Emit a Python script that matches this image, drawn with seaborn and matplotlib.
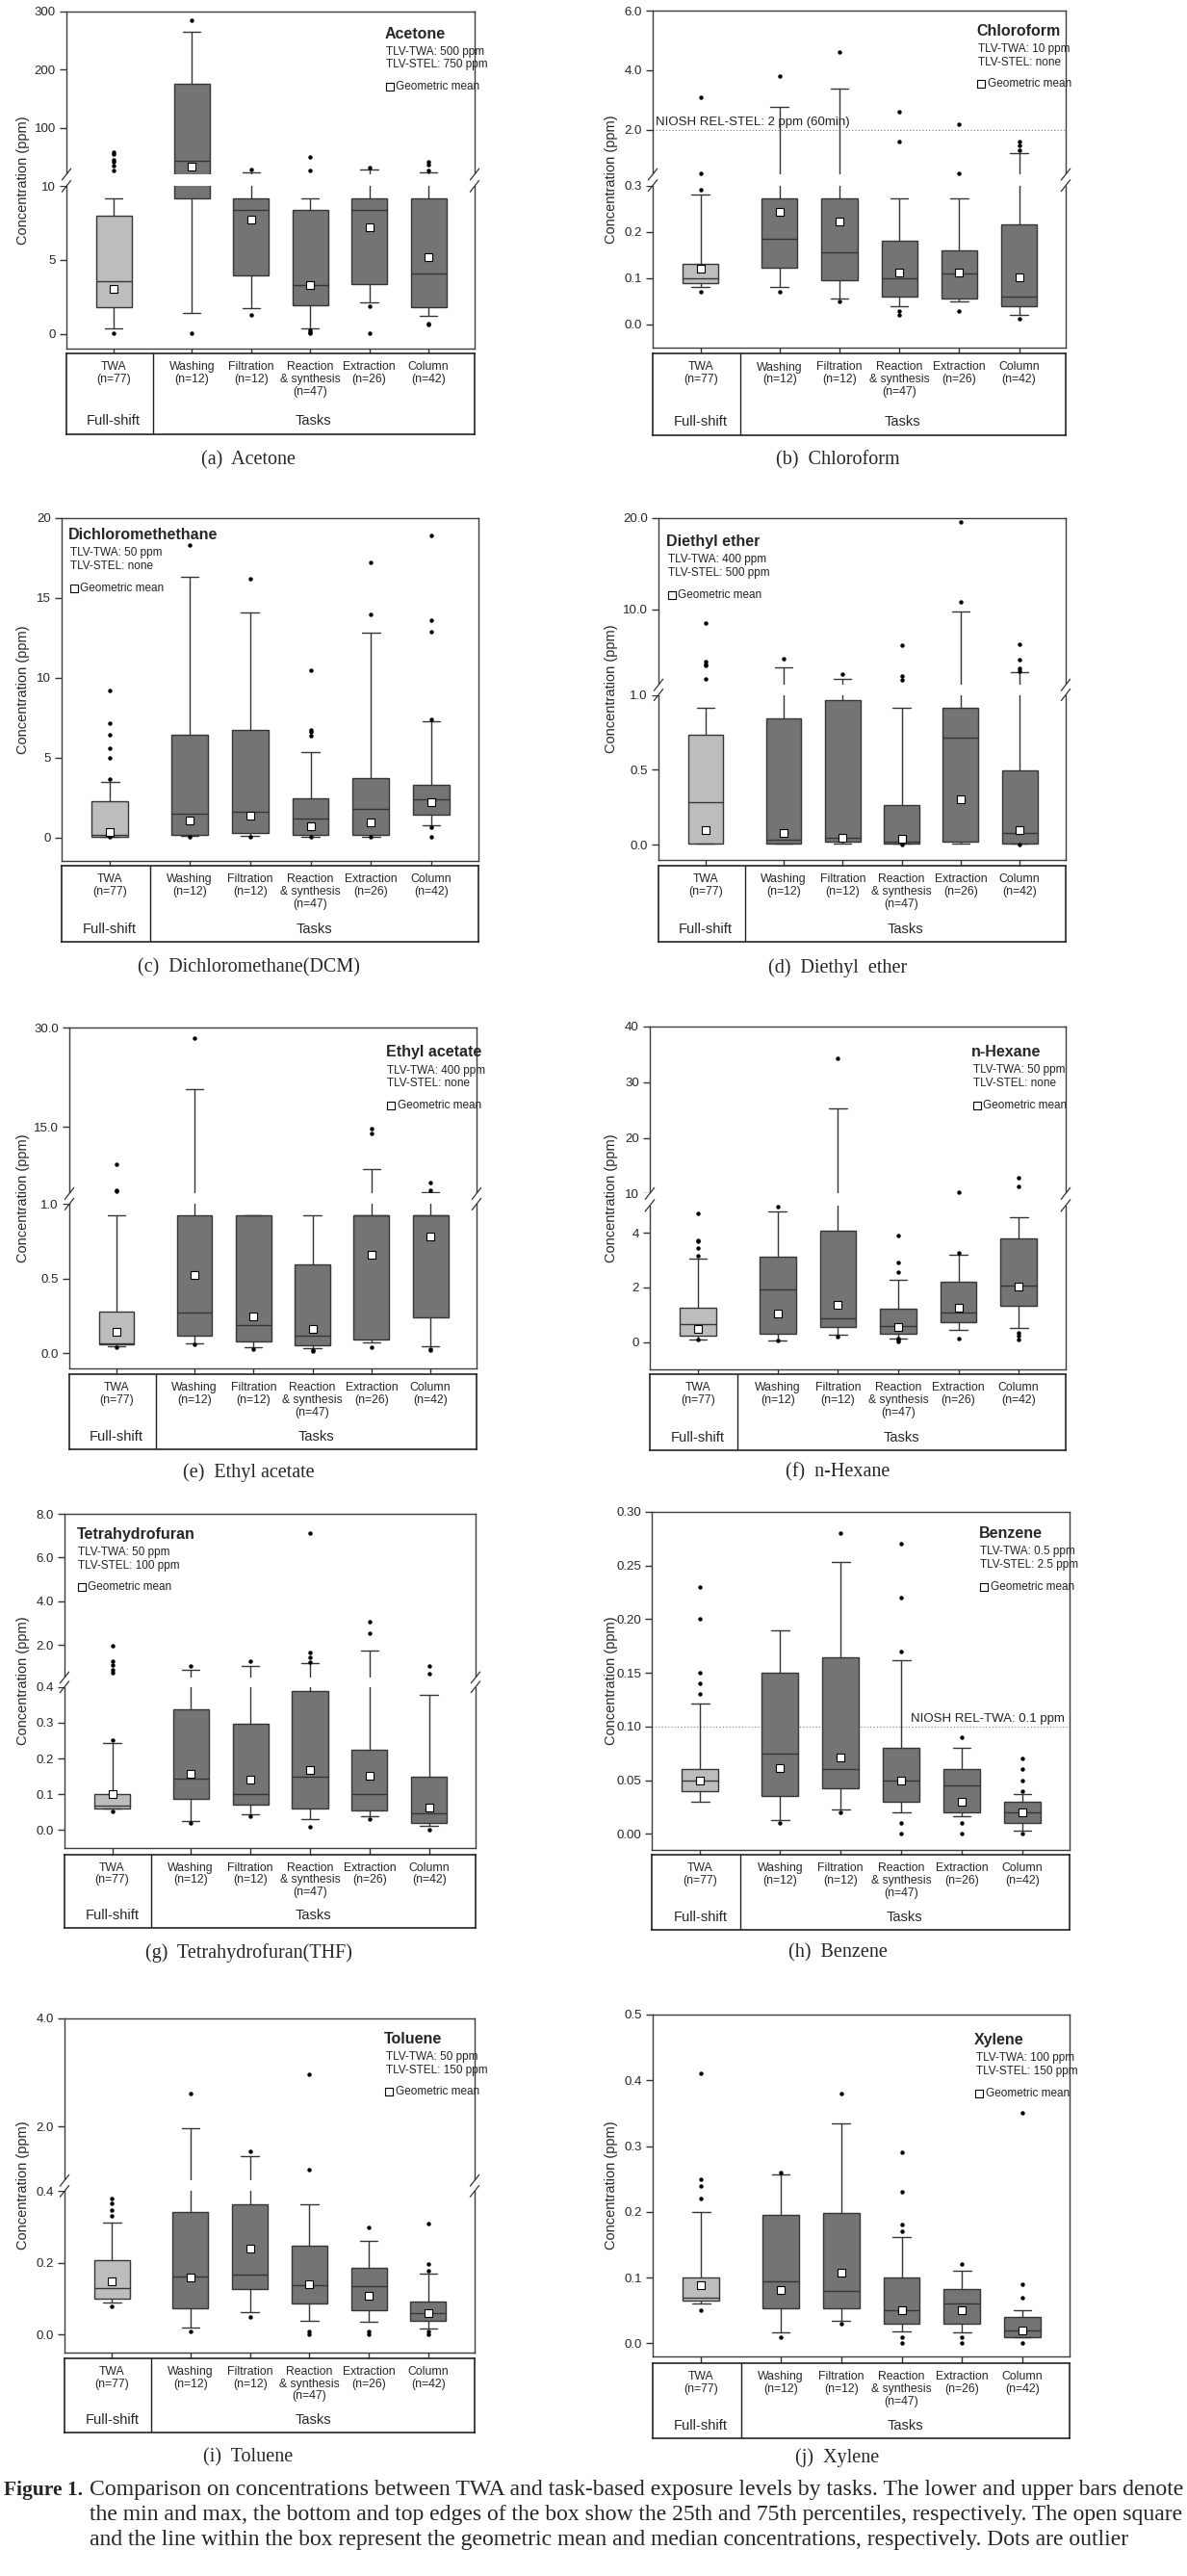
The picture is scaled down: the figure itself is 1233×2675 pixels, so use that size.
"""
Figure 1 - TWA vs task-based exposure levels, box plots for 10 solvents
"""

import numpy as np
import pandas as pd
import matplotlib
matplotlib.use("Agg")
import matplotlib.pyplot as plt
import matplotlib.transforms as mtransforms
from matplotlib.patches import Rectangle
from matplotlib.ticker import NullLocator
import seaborn as sns

sns.set_style("ticks")
plt.rcParams['font.family'] = ['Liberation Sans', 'DejaVu Sans']
SERIF = ['Liberation Serif', 'DejaVu Serif']

W, H = 1233, 2675

# ---------------- data ----------------
categories = ["TWA\n(n=77)", "Washing\n(n=12)", "Filtration\n(n=12)",
              "Reaction\n& synthesis\n(n=47)", "Extraction\n(n=26)", "Column\n(n=42)"]
groups = ["Full-shift", "Tasks", "Tasks", "Tasks", "Tasks", "Tasks"]
x_pos = [-0.32, 1, 2, 3, 4, 5]

# one row per category: min, 25th, median, 75th, max
acetone_box = [[0.4, 1.8, 3.55, 8.0, 9.2], [1.4, 9.2, 44, 175, 265], [1.75, 3.95, 8.4, 9.2, 24],
               [0.4, 1.95, 3.3, 8.4, 9.2], [2.1, 3.4, 8.4, 9.2, 28], [1.2, 1.8, 4.1, 9.2, 24]]
acetone_gm = [3.05, 34, 7.75, 3.3, 7.2, 5.2]
acetone_out = [[0.05, 27, 35, 41, 45, 55, 59], [0.05, 285], [1.3, 29],
               [0.05, 0.12, 0.25, 26, 50], [0.05, 1.85, 32], [0.6, 0.72, 27, 37, 41]]

chloro_box = [[0.08, 0.09, 0.10, 0.13, 0.28], [0.08, 0.123, 0.185, 0.273, 2.78], [0.056, 0.096, 0.155, 0.273, 3.38],
              [0.04, 0.06, 0.10, 0.18, 0.273], [0.05, 0.057, 0.11, 0.161, 0.273], [0.021, 0.04, 0.06, 0.217, 1.23]]
chloro_gm = [0.12, 0.243, 0.222, 0.112, 0.112, 0.101]
chloro_out = [[0.07, 0.29, 0.54, 3.1], [0.07, 3.8], [0.05, 4.6],
              [0.02, 0.03, 1.6, 2.62], [0.03, 0.53, 2.18], [0.012, 1.3, 1.46, 1.6]]

dcm_box = [[0.05, 0.06, 0.2, 2.27, 3.52], [0.1, 0.16, 1.5, 6.47, 16.3], [0.1, 0.32, 1.6, 6.75, 14.1],
           [0.05, 0.15, 1.19, 2.45, 5.33], [0.08, 0.15, 1.79, 3.76, 12.8], [0.76, 1.47, 2.43, 3.3, 7.3]]
dcm_gm = [0.34, 1.06, 1.4, 0.72, 0.94, 2.2]
dcm_out = [[0.03, 3.7, 5.0, 5.6, 6.43, 7.14, 9.2], [0.05, 18.3], [0.08, 16.2],
           [0.03, 6.41, 6.6, 6.75, 10.5], [0.04, 14.0, 17.2], [0.08, 0.64, 7.4, 12.9, 13.6, 18.9]]

ether_box = [[0.01, 0.012, 0.287, 0.734, 0.913], [0.01, 0.012, 0.032, 0.845, 3.68], [0.01, 0.02, 0.047, 0.968, 2.39],
             [0.01, 0.012, 0.02, 0.266, 0.913], [0.01, 0.02, 0.713, 0.913, 9.75], [0.01, 0.012, 0.081, 0.494, 3.16]]
ether_gm = [0.10, 0.079, 0.05, 0.04, 0.304, 0.096]
ether_out = [[2.39, 3.86, 4.04, 4.28, 8.5], [4.6], [2.95],
             [0.0, 2.28, 2.74, 6.1], [10.8, 19.6], [0.0, 3.3, 3.6, 4.5, 6.25]]

ethyl_box = [[0.047, 0.058, 0.069, 0.282, 0.923], [0.067, 0.118, 0.277, 0.923, 20.66], [0.041, 0.08, 0.19, 0.923, 0.923],
             [0.037, 0.052, 0.12, 0.596, 0.923], [0.073, 0.092, 0.923, 0.923, 8.7], [0.05, 0.239, 0.923, 0.923, 5.23]]
ethyl_gm = [0.142, 0.527, 0.248, 0.163, 0.66, 0.785]
ethyl_out = [[0.04, 5.32, 5.5, 9.44], [0.06, 28.4], [0.03],
             [0.015, 0.02], [0.04, 14.1, 14.8], [0.02, 0.03, 5.5, 6.6]]

hexane_box = [[0.08, 0.23, 0.655, 1.25, 3.06], [0.06, 0.316, 1.92, 3.13, 4.8], [0.257, 0.55, 0.854, 4.08, 25.3],
              [0.14, 0.316, 0.57, 1.22, 2.29], [0.456, 0.725, 1.09, 2.2, 3.2], [0.53, 1.31, 2.05, 3.8, 4.56]]
hexane_gm = [0.49, 1.06, 1.37, 0.56, 1.24, 2.04]
hexane_out = [[0.08, 3.16, 3.43, 3.68, 3.72, 4.7], [0.06, 4.97], [0.19, 34.3],
              [0.03, 0.08, 0.12, 2.57, 2.91, 3.9], [0.14, 3.26, 10.17], [0.1, 0.25, 0.35, 11.3, 12.8]]

thf_box = [[0.06, 0.06, 0.069, 0.10, 0.243], [0.024, 0.087, 0.145, 0.338, 0.84], [0.045, 0.072, 0.10, 0.296, 1.01],
           [0.03, 0.06, 0.15, 0.388, 1.15], [0.04, 0.056, 0.10, 0.225, 1.74], [0.011, 0.02, 0.046, 0.15, 0.379]]
thf_gm = [0.10, 0.158, 0.142, 0.169, 0.151, 0.062]
thf_out = [[0.051, 0.252, 0.72, 0.87, 1.09, 1.26, 1.94], [0.02, 1.03], [0.04, 1.26],
           [0.01, 1.19, 1.41, 1.63, 7.12], [0.03, 2.53, 3.06], [0.0, 0.68, 1.04]]

benzene_box = [[0.03, 0.04, 0.05, 0.06, 0.1216], [0.0128, 0.0353, 0.0747, 0.15, 0.19], [0.0227, 0.0424, 0.06, 0.1646, 0.253],
               [0.02, 0.03, 0.05, 0.08, 0.162], [0.0167, 0.02, 0.045, 0.06, 0.08], [0.0033, 0.01, 0.02, 0.03, 0.037]]
benzene_gm = [0.05, 0.0615, 0.0708, 0.05, 0.03, 0.02]
benzene_out = [[0.13, 0.14, 0.15, 0.20, 0.23], [0.01], [0.02, 0.28],
               [0.0, 0.01, 0.17, 0.22, 0.27], [0.0, 0.01, 0.09], [0.0, 0.04, 0.05, 0.06, 0.07]]

toluene_box = [[0.0884, 0.10, 0.129, 0.208, 0.3125], [0.0205, 0.073, 0.163, 0.341, 1.96], [0.064, 0.1277, 0.168, 0.364, 1.45],
               [0.038, 0.0875, 0.139, 0.248, 0.364], [0.0366, 0.068, 0.134, 0.1875, 0.262], [0.018, 0.0375, 0.059, 0.0929, 0.171]]
toluene_gm = [0.148, 0.16, 0.241, 0.14, 0.109, 0.06]
toluene_out = [[0.08, 0.331, 0.348, 0.366, 0.38], [0.01, 2.61], [0.05, 1.54],
               [0.0, 0.01, 1.2, 2.96], [0.0, 0.01, 0.299], [0.0, 0.01, 0.178, 0.198, 0.309]]

xylene_box = [[0.06, 0.065, 0.07, 0.10, 0.20], [0.0166, 0.0527, 0.094, 0.196, 0.257], [0.034, 0.0527, 0.08, 0.198, 0.3346],
              [0.0185, 0.03, 0.05, 0.10, 0.162], [0.017, 0.03, 0.06, 0.083, 0.11], [0.01, 0.01, 0.02, 0.04, 0.05]]
xylene_gm = [0.089, 0.0805, 0.108, 0.05, 0.05, 0.02]
xylene_out = [[0.05, 0.22, 0.24, 0.25, 0.41], [0.01, 0.26], [0.03, 0.38],
              [0.0, 0.01, 0.17, 0.18, 0.23, 0.29], [0.0, 0.01, 0.121], [0.0, 0.07, 0.09, 0.35]]

# y tick values / labels
acetone_ticks = [0, 5, 10, 100, 200, 300]
chloro_ticks = [0.0, 0.1, 0.2, 0.3, 2.0, 4.0, 6.0]
dcm_ticks = [0, 5, 10, 15, 20]
ether_ticks = [0.0, 0.5, 1.0, 10.0, 20.0]
ethyl_ticks = [0.0, 0.5, 1.0, 15.0, 30.0]
hexane_ticks = [0, 2, 4, 10, 20, 30, 40]
thf_ticks = [0.0, 0.1, 0.2, 0.3, 0.4, 2.0, 4.0, 6.0, 8.0]
benzene_ticks = [0.0, 0.05, 0.10, 0.15, 0.20, 0.25, 0.30]
toluene_ticks = [0.0, 0.2, 0.4, 2.0, 4.0]
xylene_ticks = [0.0, 0.1, 0.2, 0.3, 0.4, 0.5]

# ---------------- layout / panel options ----------------
# rect = (left, right, top, bottom) in px, table = (top, bottom) px
PANELS = [
    dict(box=acetone_box, gm=acetone_gm, out=acetone_out, ticks=acetone_ticks, fmt="{:.0f}",
         name="Acetone", twa="TLV-TWA: 500 ppm", stel="TLV-STEL: 750 ppm", leg=(0.78, 0.934),
         rect=(69, 493, 12, 362), table=(367, 451), ylim=(-1, 300), brk=(10, 20), frac=(0.482, 0.517),
         cap="(a)  Acetone", cap_xy=(258, 478)),
    dict(box=chloro_box, gm=chloro_gm, out=chloro_out, ticks=chloro_ticks, fmt="{:.1f}",
         name="Chloroform", twa="TLV-TWA: 10 ppm", stel="TLV-STEL: none", leg=(0.784, 0.939),
         rect=(678, 1107, 11, 361), table=(367, 452), ylim=(-0.05, 6.0), brk=(0.3, 0.5), frac=(0.481, 0.514),
         cap="(b)  Chloroform", cap_xy=(870, 478),
         niosh=(2.0, "NIOSH REL-STEL: 2 ppm (60min)", "left")),
    dict(box=dcm_box, gm=dcm_gm, out=dcm_out, ticks=dcm_ticks, fmt="{:.0f}",
         name="Dichloromethethane", twa="TLV-TWA: 50 ppm", stel="TLV-STEL: none", leg=(0.017, 0.951),
         rect=(64, 497, 538, 894), table=(899, 978), ylim=(-1.45, 20), brk=None, frac=None,
         cap="(c)  Dichloromethane(DCM)", cap_xy=(258, 1005)),
    dict(box=ether_box, gm=ether_gm, out=ether_out, ticks=ether_ticks, fmt="{:.1f}",
         name="Diethyl ether", twa="TLV-TWA: 400 ppm", stel="TLV-STEL: 500 ppm", leg=(0.02, 0.932),
         rect=(684, 1107, 538, 893), table=(899, 978), ylim=(-0.1, 20.0), brk=(1.0, 1.75), frac=(0.483, 0.512),
         cap="(d)  Diethyl  ether", cap_xy=(870, 1005)),
    dict(box=ethyl_box, gm=ethyl_gm, out=ethyl_out, ticks=ethyl_ticks, fmt="{:.1f}",
         name="Ethyl acetate", twa="TLV-TWA: 400 ppm", stel="TLV-STEL: none", leg=(0.778, 0.927),
         rect=(72, 495, 1067, 1421), table=(1427, 1505), ylim=(-0.1, 30.0), brk=(1.0, 5.0), frac=(0.482, 0.513),
         cap="(e)  Ethyl acetate", cap_xy=(258, 1529)),
    dict(box=hexane_box, gm=hexane_gm, out=hexane_out, ticks=hexane_ticks, fmt="{:.0f}",
         name="n-Hexane", twa="TLV-TWA: 50 ppm", stel="TLV-STEL: none", leg=(0.774, 0.926),
         rect=(675, 1107, 1066, 1422), table=(1427, 1506), ylim=(-1, 40), brk=(5, 10), frac=(0.478, 0.513),
         cap="(f)  n-Hexane", cap_xy=(870, 1529)),
    dict(box=thf_box, gm=thf_gm, out=thf_out, ticks=thf_ticks, fmt="{:.1f}",
         name="Tetrahydrofuran", twa="TLV-TWA: 50 ppm", stel="TLV-STEL: 100 ppm", leg=(0.03, 0.937),
         rect=(67, 494, 1572, 1919), table=(1926, 2002), ylim=(-0.05, 8.0), brk=(0.4, 0.5), frac=(0.482, 0.510),
         cap="(g)  Tetrahydrofuran(THF)", cap_xy=(258, 2028)),
    dict(box=benzene_box, gm=benzene_gm, out=benzene_out, ticks=benzene_ticks, fmt="{:.2f}",
         name="Benzene", twa="TLV-TWA: 0.5 ppm", stel="TLV-STEL: 2.5 ppm", leg=(0.783, 0.936),
         rect=(677, 1111, 1570, 1921), table=(1926, 2004), ylim=(-0.015, 0.30), brk=None, frac=None,
         cap="(h)  Benzene", cap_xy=(870, 2028),
         niosh=(0.10, "NIOSH REL-TWA: 0.1 ppm", "right")),
    dict(box=toluene_box, gm=toluene_gm, out=toluene_out, ticks=toluene_ticks, fmt="{:.1f}",
         name="Toluene", twa="TLV-TWA: 50 ppm", stel="TLV-STEL: 150 ppm", leg=(0.78, 0.937),
         rect=(67, 493, 2096, 2443), table=(2449, 2526), ylim=(-0.05, 4.0), brk=(0.4, 1.0), frac=(0.483, 0.515),
         cap="(i)  Toluene", cap_xy=(258, 2552)),
    dict(box=xylene_box, gm=xylene_gm, out=xylene_out, ticks=xylene_ticks, fmt="{:.1f}",
         name="Xylene", twa="TLV-TWA: 100 ppm", stel="TLV-STEL: 150 ppm", leg=(0.772, 0.925),
         rect=(678, 1111, 2092, 2447), table=(2454, 2532), ylim=(-0.02, 0.5), brk=None, frac=None,
         cap="(j)  Xylene", cap_xy=(870, 2552)),
]

XLIM = (-1.12, 5.78)
DIVIDER = 0.34
PALETTE = {"Full-shift": "#bdbdbd", "Tasks": "#747474"}


def fig_rect(l, r, t, b):
    return [l / W, 1 - b / H, (r - l) / W, (b - t) / H]


def draw_panel(fig, p):
    l, r, t, b = p["rect"]
    ax = fig.add_axes(fig_rect(l, r, t, b))

    # boxes from the five-number summaries
    box_df = pd.DataFrame([{"pos": x, "group": g, "conc": v}
                           for x, g, row in zip(x_pos, groups, p["box"]) for v in row])
    sns.boxplot(data=box_df, x="pos", y="conc", hue="group", palette=PALETTE, orient="x",
                native_scale=True, dodge=False, whis=np.inf, width=0.6, saturation=1,
                linecolor="#363636", linewidth=1.0, legend=False, ax=ax)

    # outliers
    out_df = pd.DataFrame([{"pos": x, "conc": v} for x, o in zip(x_pos, p["out"]) for v in o])
    sns.stripplot(data=out_df, x="pos", y="conc", orient="x", native_scale=True, jitter=False,
                  color="black", size=3.2, linewidth=0, ax=ax, zorder=6)
    # geometric means
    gm_df = pd.DataFrame({"pos": x_pos, "conc": p["gm"]})
    sns.stripplot(data=gm_df, x="pos", y="conc", orient="x", native_scale=True, jitter=False,
                  marker="s", color="white", edgecolor="black", linewidth=0.8, size=5.2,
                  ax=ax, zorder=7)

    # broken axis through a piecewise-linear scale
    if p["brk"] is not None:
        vals = [p["ylim"][0], p["brk"][0], p["brk"][1], p["ylim"][1]]
        fr = [0.0, p["frac"][0], p["frac"][1], 1.0]
        ax.set_yscale("function", functions=(lambda y: np.interp(y, vals, fr),
                                             lambda u: np.interp(u, fr, vals)))
    ax.set_ylim(*p["ylim"])
    ax.set_yticks(p["ticks"], labels=[p["fmt"].format(v) for v in p["ticks"]])
    ax.yaxis.set_minor_locator(NullLocator())
    ax.set_xlim(*XLIM)
    ax.set_xticks(x_pos, labels=[])
    ax.tick_params(axis="both", direction="out", length=5, width=1, color="#333333",
                   labelsize=9.5, pad=3)
    ax.set_xlabel("")
    ax.set_ylabel("Concentration (ppm)", fontsize=10.5)
    lab_px = 31 if l < 600 else 642
    ax.yaxis.set_label_coords((lab_px - l) / (r - l), 0.5)
    for s in ax.spines.values():
        s.set_color("#3c3c3c")
        s.set_linewidth(1.0)

    if p["brk"] is not None:
        trans = mtransforms.blended_transform_factory(ax.transAxes, ax.transData)
        ax.add_patch(Rectangle((-0.02, p["brk"][0]), 1.04, p["brk"][1] - p["brk"][0],
                               transform=trans, facecolor="white", edgecolor="none",
                               zorder=5, clip_on=False))
        for x0 in (0.0, 1.0):
            for f in p["frac"]:
                ax.plot([x0 - 0.011, x0 + 0.011], [f - 0.017, f + 0.017], transform=ax.transAxes,
                        color="#333333", lw=0.9, clip_on=False, zorder=6)

    # reference line (NIOSH)
    if "niosh" in p:
        yv, txt, side = p["niosh"]
        ax.axhline(yv, color="#777777", lw=0.8, ls=(0, (1, 2)), zorder=1)
        trans = mtransforms.blended_transform_factory(ax.transAxes, ax.transData)
        xa = 0.007 if side == "left" else 0.988
        ax.annotate(txt, xy=(xa, yv), xycoords=trans, xytext=(0, 1.5), textcoords="offset points",
                    ha=side, va="bottom", fontsize=9.5, color="#222222")

    # in-plot legend block
    lx, ly = p["leg"]
    ax.text(lx, ly, p["name"], transform=ax.transAxes, fontsize=11.5, fontweight="bold",
            ha="left", va="center")
    ax.text(lx + 0.003, ly - 0.053, p["twa"], transform=ax.transAxes, fontsize=8.5,
            ha="left", va="center", color="#222222")
    ax.text(lx + 0.003, ly - 0.092, p["stel"], transform=ax.transAxes, fontsize=8.5,
            ha="left", va="center", color="#222222")
    ax.plot([lx + 0.012], [ly - 0.157], marker="s", ms=5.5, mfc="white", mec="black", mew=0.8,
            transform=ax.transAxes, zorder=7)
    ax.text(lx + 0.027, ly - 0.157, "Geometric mean", transform=ax.transAxes, fontsize=8.5,
            ha="left", va="center", color="#222222")

    # category table underneath
    tt, tb = p["table"]
    tax = fig.add_axes(fig_rect(l, r, tt, tb))
    tax.set_xlim(*XLIM)
    tax.set_ylim(0, 1)
    tax.set_xticks([])
    tax.set_yticks([])
    for s in tax.spines.values():
        s.set_color("#222222")
        s.set_linewidth(1.2)
    tax.axvline(DIVIDER, color="#222222", lw=1.0)
    for x, lab in zip(x_pos, categories):
        tax.text(x, 0.9, lab, ha="center", va="top", fontsize=8.8, linespacing=1.1)
    tax.text(x_pos[0], 0.17, "Full-shift", ha="center", va="center", fontsize=10.5)
    tax.text((DIVIDER + XLIM[1]) / 2, 0.17, "Tasks", ha="center", va="center", fontsize=10.5)

    cx, cy = p["cap_xy"]
    fig.text(cx / W, 1 - cy / H, p["cap"], family=SERIF, fontsize=14.5, ha="center", va="center")


def main():
    fig = plt.figure(figsize=(W / 100, H / 100), dpi=100)
    for p in PANELS:
        draw_panel(fig, p)

    # figure caption, first two lines stretched to the full width
    lines = ["Comparison on concentrations between TWA and task-based exposure levels by tasks. "
             "The lower and upper bars denote",
             "the min and max, the bottom and top edges of the box show the 25th and 75th "
             "percentiles, respectively. The open square",
             "and the line within the box represent the geometric mean and median concentrations, "
             "respectively. Dots are outlier"]
    line_y = [2586, 2612, 2638]
    renderer = fig.canvas.get_renderer()
    fs = 15.5
    head = fig.text(4 / W, 1 - line_y[0] / H, "Figure 1.", family=SERIF, fontweight="bold",
                    fontsize=fs, ha="left", va="center")
    x0 = 4 + head.get_window_extent(renderer).width + 7
    sizes = []
    for txt in lines[:2]:
        probe = fig.text(x0 / W, 0.5, txt, family=SERIF, fontsize=fs, ha="left", va="center")
        sizes.append(fs * (1228 - x0) / probe.get_window_extent(renderer).width)
        probe.remove()
    sizes.append(sizes[1])
    for txt, y, s in zip(lines, line_y, sizes):
        fig.text(x0 / W, 1 - y / H, txt, family=SERIF, fontsize=s, ha="left", va="center")

    fig.savefig("out.png", dpi=100, facecolor="white")
    plt.close(fig)


if __name__ == "__main__":
    main()
